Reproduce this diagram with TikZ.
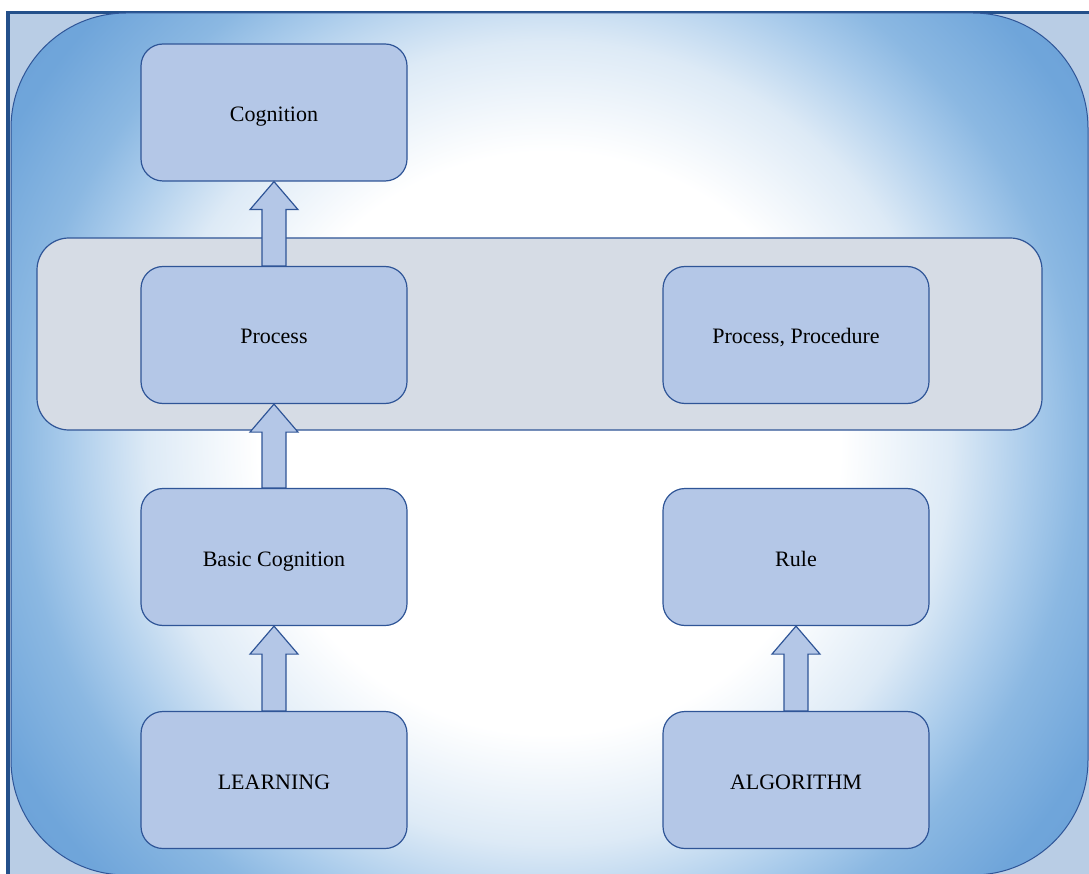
\documentclass[tikz,border=0pt]{standalone}
\usepackage{fontspec}
\setmainfont{Liberation Serif}
\usepackage{tikz}
\usetikzlibrary{calc}
\definecolor{framecol}{HTML}{24508A}
\definecolor{outerbg}{HTML}{B9CDE5}
\definecolor{glowblue}{HTML}{6A9FD5}
\definecolor{glowdeep}{HTML}{6FA5DA}
\definecolor{glowmid}{HTML}{8BB8E2}
\definecolor{glowsoft}{HTML}{A9CBEB}
\definecolor{glowlight}{HTML}{DDEAF6}
\definecolor{boxfill}{HTML}{B4C7E7}
\definecolor{boxline}{HTML}{2F5597}
\definecolor{bandfill}{HTML}{D6DCE5}
% radii in bp, about one pixel each
\pgfdeclareradialshading{glow}{\pgfpoint{0bp}{0bp}}{color(0bp)=(white); color(290bp)=(white); color(400bp)=(glowlight); color(480bp)=(glowsoft); color(530bp)=(glowmid); color(620bp)=(glowdeep); color(760bp)=(glowblue)}
\tikzset{
    frame/.style={framecol,line width=3.5pt},
    panel/.style={draw=boxline,line width=1pt},
    band/.style={draw=boxline,fill=bandfill,line width=1.2pt,rounded corners=32pt},
    box/.style={draw=boxline,fill=boxfill,line width=1.2pt,rounded corners=22pt,
        minimum width=266pt,minimum height=137pt,inner sep=0pt,
        text height=20pt,text depth=2pt,
        font=\fontsize{22}{26}\selectfont},
    blockarrow/.style={draw=boxline,fill=boxfill,line width=1.2pt,
        to path={let \p1=(\tikztostart), \p2=(\tikztotarget) in
        (\x1-12pt,\y1) -- (\x1-12pt,\y2-28pt) -- (\x1-24pt,\y2-28pt) -- (\x2,\y2)
        -- (\x1+24pt,\y2-28pt) -- (\x1+12pt,\y2-28pt) -- (\x1+12pt,\y1) -- cycle}}
}

\begin{document}
\begin{tikzpicture}[x=1pt,y=-1pt]
\useasboundingbox (0,0) rectangle (1089,874);
\fill[white] (0,0) rectangle (1089,874);
\fill[outerbg] (8,12) rectangle (1089,874);
\draw[frame] (8,874)--(8,12.5)--(1089,12.5);

% glowing panel
\begin{scope}
\clip[rounded corners=115pt] (11,13) rectangle (1088,875);
\node[inner sep=0pt] (glowfill) at (549,443) {\pgfuseshading{glow}};
\end{scope}
\draw[panel,rounded corners=115pt] (11,13) rectangle (1088,875);

\draw[band] (37,238) rectangle (1042,430);

\node[box] (cognition) at (274,112.5) {Cognition};
\node[box] (process) at (274,335) {Process};
\node[box] (procedure) at (796,335) {Process, Procedure};
\node[box] (basic) at (274,557) {Basic Cognition};
\node[box] (rule) at (796,557) {Rule};
\node[box] (learning) at (274,780) {LEARNING};
\node[box] (algorithm) at (796,780) {ALGORITHM};

\draw[blockarrow] (learning.north) to (basic.south);
\draw[blockarrow] (basic.north) to (process.south);
\draw[blockarrow] (process.north) to (cognition.south);
\draw[blockarrow] (algorithm.north) to (rule.south);

\end{tikzpicture}
\end{document}
